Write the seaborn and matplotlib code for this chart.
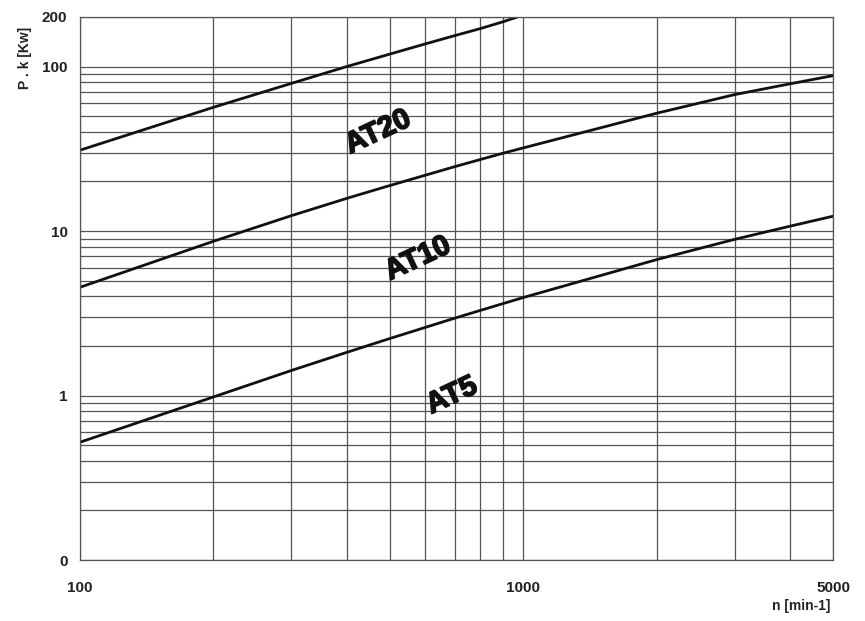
import numpy as np
import pandas as pd
import matplotlib
matplotlib.use("Agg")
import matplotlib.pyplot as plt
import matplotlib.patheffects as pe
import seaborn as sns
from matplotlib.ticker import FixedLocator, NullFormatter

# rpm values and power (log-log)
n_at20 = [100, 200, 300, 400, 500, 600, 700, 800, 900, 970]
p_at20 = [31, 56.5, 79, 100, 119, 137, 154, 170, 187, 200]

n_at10 = [100, 200, 300, 400, 500, 600, 700, 800, 900, 1000, 2000, 3000, 4000, 5000]
p_at10 = [4.55, 8.66, 12.4, 15.8, 18.9, 21.8, 24.6, 27.2, 29.7, 32, 52, 67.5, 78.5, 88]

n_at5 = [100, 200, 300, 400, 500, 600, 700, 800, 900, 1000, 2000, 3000, 4000, 5000]
p_at5 = [0.52, 0.98, 1.42, 1.83, 2.22, 2.59, 2.95, 3.29, 3.62, 3.94, 6.7, 8.9, 10.7, 12.3]

labels = ["AT20", "AT10", "AT5"]
label_pos = [(470, 40), (578, 6.8), (690, 1.0)]

y_ticks = [0.1, 1, 10, 100, 200]
y_ticklabels = ["0", "1", "10", "100", "200"]
x_ticks = [100, 1000, 5000]
x_ticklabels = ["100", "1000", "5000"]

df = pd.concat([
    pd.DataFrame({"n": n_at20, "P": p_at20, "belt": "AT20"}),
    pd.DataFrame({"n": n_at10, "P": p_at10, "belt": "AT10"}),
    pd.DataFrame({"n": n_at5, "P": p_at5, "belt": "AT5"}),
])

sns.set_style("white")
plt.rcParams['font.family'] = ['Liberation Sans', 'DejaVu Sans']

fig = plt.figure(figsize=(8.65, 6.21), dpi=100)
ax = fig.add_axes([80 / 865, 1 - 560 / 621, 753 / 865, 543 / 621])

grid_col = "#555555"
ax.set_xscale("log")
ax.set_yscale("log")
ax.set_xlim(100, 5000)
ax.set_ylim(0.1, 200)

ax.xaxis.set_minor_locator(FixedLocator([200, 300, 400, 500, 600, 700, 800, 900, 2000, 3000, 4000]))
ax.yaxis.set_minor_locator(FixedLocator(
    [k * 0.1 for k in range(2, 10)] + list(range(2, 10)) + list(range(20, 100, 10))))
ax.xaxis.set_minor_formatter(NullFormatter())
ax.yaxis.set_minor_formatter(NullFormatter())
ax.grid(True, which="both", color=grid_col, linewidth=0.9)
ax.set_axisbelow(True)

sns.lineplot(data=df, x="n", y="P", hue="belt", sort=True, estimator=None,
             palette={"AT20": "#111111", "AT10": "#111111", "AT5": "#111111"},
             linewidth=2.0, legend=False, ax=ax)

ax.set_xticks(x_ticks)
ax.set_xticklabels(x_ticklabels)
ax.set_yticks(y_ticks)
ax.set_yticklabels(y_ticklabels)
ax.tick_params(axis="y", which="major", length=4, width=0.9, color=grid_col,
               labelsize=11, labelcolor="#222222", pad=5)
ax.tick_params(axis="x", which="major", length=4, width=0.9, color=grid_col,
               labelsize=11, labelcolor="#222222", pad=11)
ax.tick_params(axis="both", which="minor", length=0)
for lab in ax.get_xticklabels() + ax.get_yticklabels():
    lab.set_fontweight("bold")

for sp in ax.spines.values():
    sp.set_color(grid_col)
    sp.set_linewidth(0.9)

ax.set_xlabel("")
ax.set_ylabel("")
fig.text(801 / 865, 1 - 606 / 621, "n [min-1]", ha="center", va="center",
         fontsize=10, fontweight="bold", color="#222222")
fig.text(25 / 865, 1 - 58 / 621, "P . k [Kw]", ha="center", va="center",
         rotation=90, fontsize=10, fontweight="bold", color="#222222")

for lab, (x, y) in zip(labels, label_pos):
    ax.text(x, y, lab, ha="center", va="center", rotation=25,
            fontsize=21, fontweight="bold", color="#111111",
            path_effects=[pe.withStroke(linewidth=1.2, foreground="#111111")])

fig.savefig("out.png", dpi=100)
